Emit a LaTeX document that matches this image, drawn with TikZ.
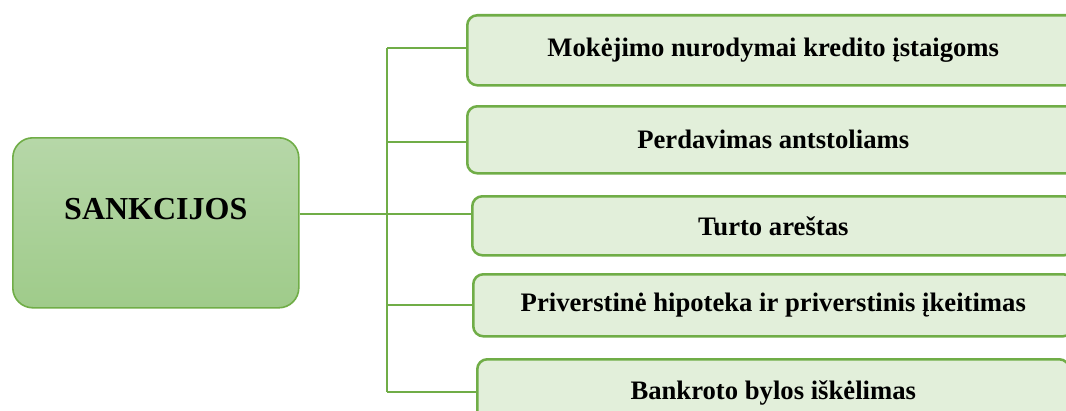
\documentclass[tikz,border=0pt]{standalone}
\usepackage{fontspec}
\setmainfont{Liberation Serif}
\usepackage{xcolor}
\definecolor{leafgreen}{HTML}{70AD47}
\definecolor{paletop}{HTML}{B6D7A8}
\definecolor{palebot}{HTML}{9FCB8A}
\definecolor{boxfill}{HTML}{E2EFDA}
\begin{document}
\begin{tikzpicture}[x=0.75pt,y=-0.75pt,
  mainbox/.style={draw=leafgreen,line width=1.2pt,rounded corners=15pt,
    top color=paletop,bottom color=palebot,anchor=north west,inner sep=0pt},
  sankbox/.style={draw=leafgreen,line width=1.9pt,rounded corners=7.5pt,
    fill=boxfill,anchor=north west,inner sep=0pt,
    font=\fontsize{20}{24}\selectfont\bfseries},
  link/.style={draw=leafgreen,line width=1.7pt}]
\useasboundingbox (0,0) rectangle (1066,410);
\clip (0,0) rectangle (1066,410);
% main box
\node[mainbox,minimum width=214.5pt,minimum height=127.5pt] (sank) at (12,137) {};
\node[font=\fontsize{24}{28}\selectfont\bfseries] (sanklbl) at ([yshift=10pt]sank.center) {SANKCIJOS};
% sanction boxes
\node[sankbox,minimum width=459pt,minimum height=52.5pt] (b1) at (466,14) {Mokėjimo nurodymai kredito įstaigoms};
\node[sankbox,minimum width=459pt,minimum height=50.25pt] (b2) at (466,105) {Perdavimas antstoliams};
\node[sankbox,minimum width=451.5pt,minimum height=44.25pt] (b3) at (471,195) {Turto areštas};
\node[sankbox,minimum width=450pt,minimum height=46.5pt] (b4) at (472,273) {Priverstinė hipoteka ir priverstinis įkeitimas};
\node[sankbox,minimum width=444pt,minimum height=51pt] (b5) at (476,358) {Bankroto bylos iškėlimas};
% connectors
\coordinate (hub) at (387,214);
\draw[link] (hub -| sank.east) -- (hub -| b3.west);
\draw[link] (hub |- 0,48) -- (hub |- 0,392);
\draw[link] (hub |- 0,48) -- (b1.west |- 0,48);
\draw[link] (hub |- 0,142) -- (b2.west |- 0,142);
\draw[link] (hub |- b4.west) -- (b4.west);
\draw[link] (hub |- 0,392) -- (b5.west |- 0,392);
\end{tikzpicture}
\end{document}
